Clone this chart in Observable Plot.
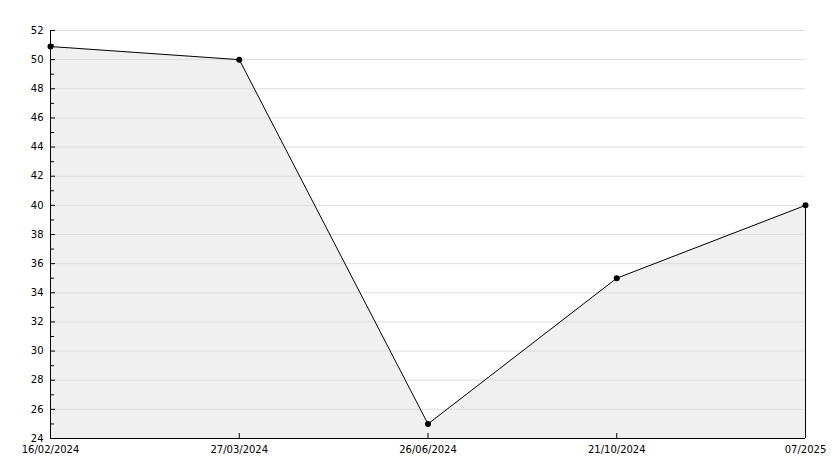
<!DOCTYPE html>
<html>
<head>
<meta charset="utf-8">
<script src="https://cdn.jsdelivr.net/npm/d3@7"></script>
<script src="https://cdn.jsdelivr.net/npm/@observablehq/plot@0.6"></script>
<style>
  html, body { margin: 0; padding: 0; background: #fff; }
</style>
</head>
<body>
<div id="chart"></div>
<script>
const dateLabels = ["16/02/2024", "27/03/2024", "26/06/2024", "21/10/2024", "07/2025"];
const values = [50.9, 50, 25, 35, 40];
const majorYTicks = [24, 26, 28, 30, 32, 34, 36, 38, 40, 42, 44, 46, 48, 50, 52];
const minorYTicks = [25, 27, 29, 31, 33, 35, 37, 39, 41, 43, 45, 47, 49, 51];

const data = values.map((v, i) => ({i, label: dateLabels[i], v}));
const idx = data.map(d => d.i);
const last = data[data.length - 1];

const chart = Plot.plot({
  width: 834,
  height: 468,
  marginLeft: 50,
  marginRight: 29,
  marginTop: 30,
  marginBottom: 30,
  style: {fontFamily: "DejaVu Sans, sans-serif", fontSize: "10px", color: "#000", background: "#fff"},
  x: {type: "linear", domain: [0, dateLabels.length - 1], label: null},
  y: {domain: [24, 52], label: null},
  marks: [
    Plot.areaY(data, {x: "i", y1: 24, y2: "v", fill: "#f0f0f0"}),
    Plot.gridY(majorYTicks, {stroke: "#dddddd", strokeOpacity: 1}),
    Plot.lineY(data, {x: "i", y: "v", stroke: "#000", strokeWidth: 1}),
    Plot.ruleX([last], {x: "i", y1: 24, y2: "v", stroke: "#000"}),
    Plot.dot(data, {x: "i", y: "v", r: 3, fill: "#000", stroke: "none"}),
    Plot.ruleY([24], {stroke: "#000"}),
    Plot.ruleX([0], {stroke: "#000"}),
    Plot.axisY({ticks: majorYTicks, tickSize: 5, dx: 5, text: null, label: null, stroke: "#000"}),
    Plot.axisY({ticks: minorYTicks, tickSize: 4, dx: 4, text: null, label: null, stroke: "#000"}),
    Plot.axisY({ticks: majorYTicks, tickSize: 0, tickPadding: 7, label: null, fill: "#000"}),
    Plot.axisX({ticks: idx, tickSize: 5, dy: -5, text: null, label: null, stroke: "#000"}),
    Plot.axisX({ticks: idx, tickSize: 0, tickPadding: 7, tickFormat: i => dateLabels[i], label: null, fill: "#000"})
  ]
});
document.getElementById("chart").appendChild(chart);
</script>
</body>
</html>
